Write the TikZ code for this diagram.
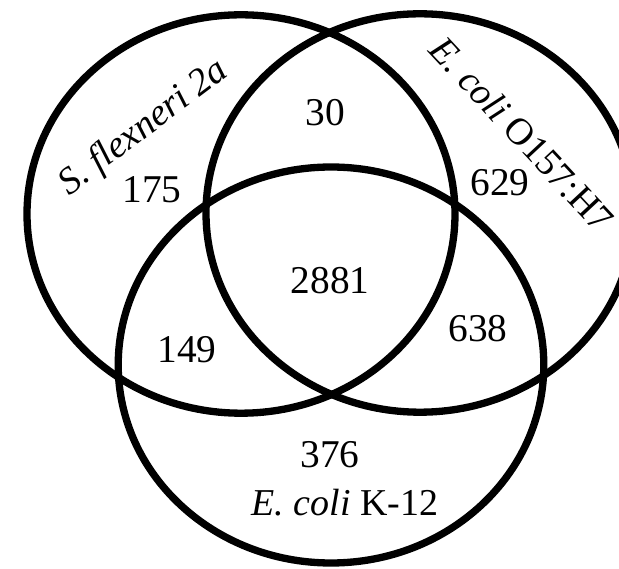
\documentclass[tikz,border=0pt]{standalone}
\usepackage{fontspec}
\setmainfont{Liberation Serif}
\usepackage{tikz}

\begin{document}
\begin{tikzpicture}[
    venn/.style={draw=black, line width=5.2pt},
    count/.style={font=\fontsize{28}{32}\selectfont, inner sep=0pt},
    title/.style={font=\fontsize{27}{31}\selectfont, inner sep=0pt}
]
\useasboundingbox (0,0) rectangle (15.475,14.2);
% centres of the three sets
\coordinate (sf) at (6.025,8.85);
\coordinate (o157) at (10.5,8.875);
\coordinate (k12) at (8.275,5.075);
\draw[venn] (sf) ellipse [x radius=5.35cm, y radius=4.98cm];
\draw[venn] (o157) ellipse [x radius=5.35cm, y radius=4.98cm];
\draw[venn] (k12) ellipse [x radius=5.32cm, y radius=4.95cm];
% set names
\node[title, rotate=37] (nsf) at (3.6,11.0) {\textit{S. flexneri 2a}};
\node[title, rotate=-47] (no157) at (13.05,10.85) {\textit{E. coli} O157:H7};
\node[title] (nk12) at (8.625,1.625) {\textit{E. coli} K-12};
% counts
\node[count] (c175) at (3.8,9.45) {175};
\node[count] (c30) at (8.125,11.375) {30};
\node[count] (c629) at (12.5,9.625) {629};
\node[count] (c2881) at (8.25,7.175) {2881};
\node[count] (c149) at (4.675,5.45) {149};
\node[count] (c638) at (11.95,5.975) {638};
\node[count] (c376) at (8.25,2.825) {376};
\end{tikzpicture}
\end{document}
